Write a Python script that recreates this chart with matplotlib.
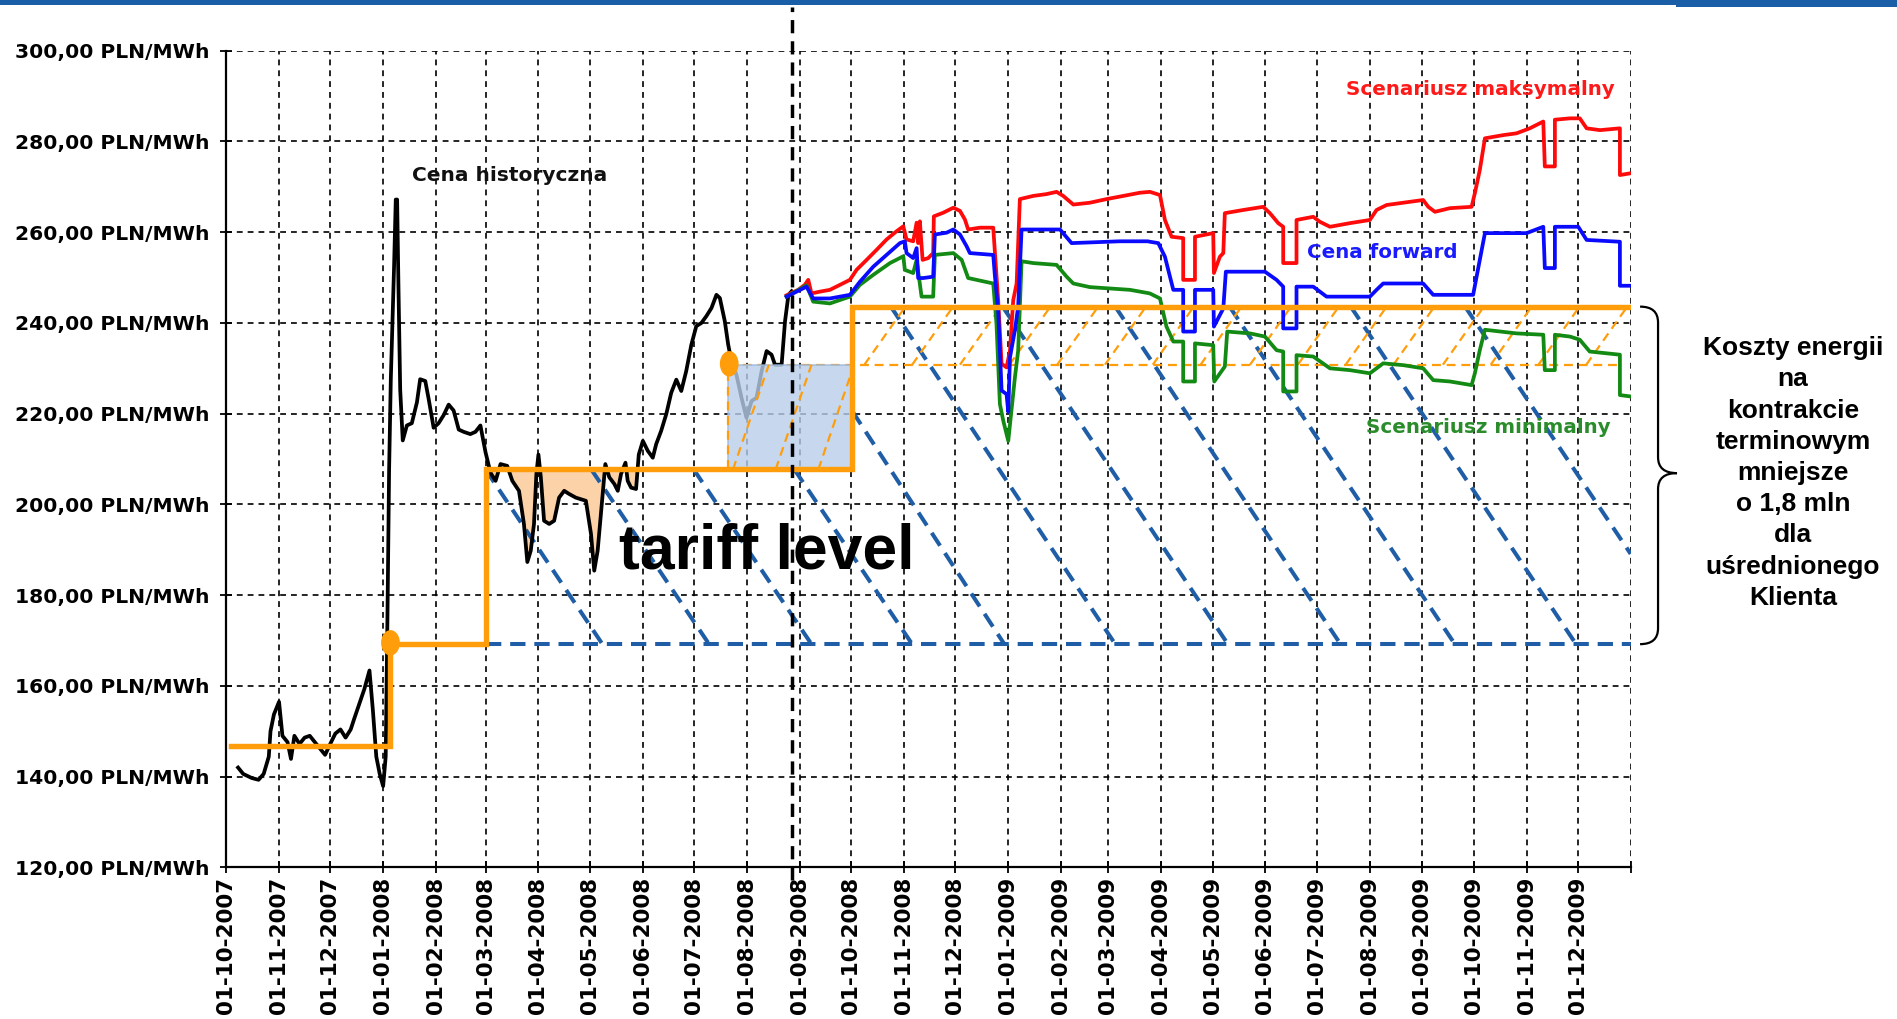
import numpy as np
import matplotlib
matplotlib.use('Agg')
import matplotlib.pyplot as plt
import matplotlib.dates as mdates
import matplotlib.transforms as mtransforms
from matplotlib.patches import Rectangle, Ellipse, PathPatch
from matplotlib.path import Path

# day offsets counted from 01-10-2007
start_date = np.datetime64('2007-10-01')

# historical spot price (Cena historyczna)
hist_day = [7, 10, 15, 19, 22, 25, 26, 28, 31, 33, 36, 38, 40, 43, 46, 49, 52, 55, 58, 61,
            64, 67, 70, 73, 75, 78, 81, 84, 86, 88, 90, 92, 93.5, 94.5, 95.5, 96.5, 97.5, 98.4,
            99.4, 100.2, 101, 102, 103.5, 105.9, 108.8, 111.8, 113.7, 116.7, 118.6, 121.6,
            124.5, 127.5, 130.4, 133.3, 136.3, 139.2, 143.1, 146.1, 149, 152,
            154.9, 157.9, 160.8, 164.7, 167.7, 171.6, 174.5, 176.5, 178.5, 180.4, 181.8, 183,
            184.4, 186.3, 189.3, 192.2, 195.1, 198.1, 201, 204.9, 210.8, 213.8, 215.7, 217.7,
            219.6, 222.2, 224.5, 227.5, 229.5, 231.4, 234, 235.3, 237.3, 240.2, 241.8, 244.2,
            247.1, 250, 252, 254.9, 257.9, 260.8, 263.8, 266.7, 269.6, 272.6, 275.5, 278.5,
            281.4, 284.4, 287.3, 289.3, 292.2, 294.2, 296.1, 299, 302, 304.9, 307.9, 310.8,
            313.8, 316.7, 319.6, 321.6, 325.5, 327.5, 329.5, 331.4]
hist_val = [142, 140.6, 139.7, 139.3, 140.6, 144.4, 150, 153.7, 156.5, 149, 147.6, 143.9, 149,
            147.2, 148.6, 149, 147.6, 146.2, 144.8, 147.2, 149.5, 150.4, 148.6, 150.4, 152.7,
            156, 159.3, 163.4, 154.6, 144.4, 140.6, 137.9, 144.4, 174.1, 207.6, 227.6, 240.2,
            252.3, 267.2, 267.2, 247.6, 225.3, 214.1, 217.4, 217.9, 222.5, 227.6, 227.2, 223.4,
            216.9, 217.9, 219.7, 222, 220.7, 216.5, 216, 215.5, 216, 217.4, 211.5,
            207, 205.2, 208.9, 208.5, 205.2, 203, 195.7, 187.3, 189.8, 195.7, 206.7, 211,
            206, 196.4, 195.7, 196.4, 201.5, 203, 202.3, 201.5, 200.8, 193.5, 185.4, 189.8,
            197.9, 208.9, 206, 204.5, 203, 206.7, 209.2, 205.2, 203.7, 203.4, 211, 214,
            211.8, 210.3, 213.3, 216.2, 219.9, 224.6, 227.5, 225, 229.4, 235.2, 239.3, 240,
            241.5, 243.3, 246.2, 245.5, 240.4, 235.2, 231.6, 228.6, 223.5, 219.1, 222.8, 223.5,
            229.4, 233.8, 233, 230.8, 230.8, 240.4, 246.2, 247]

# Scenariusz maksymalny
max_day = [328.4, 335.2, 339.1, 341.1, 343, 347.9, 353.8, 359.7, 365.5, 369.4, 375.3, 381.1,
           387, 392.8, 396.8, 398.7, 402.6, 404.6, 405.5, 406.5, 408.1, 411.4, 414.3, 414.7,
           420.2, 426.1, 430, 432.9, 434.8, 441.7, 449.5, 450.5, 452.4, 454.4, 457.3, 459.3,
           461.2, 463.2, 465.1, 472.9, 480.7, 486.6, 490.5, 496.4, 506.1, 515.9, 525.7, 535.4,
           541.3, 547.2, 550.1, 554, 560.8, 560.8, 567.7, 567.7, 578.4, 578.8, 582.3, 584.3,
           585.2, 596, 607.7, 611.6, 616.5, 619.4, 619.4, 627.2, 627.2, 637, 640.9, 646.8,
           658.5, 670.2, 674.1, 680, 689.7, 701.4, 704.4, 708.3, 717.1, 729.8, 731.7, 734.6,
           737.6, 748.3, 756.1, 763.9, 771.8, 772.7, 778.6, 778.6, 787.4, 793.2, 797.2, 805,
           816.7, 816.7, 823]
max_val = [246.1, 247.3, 248.4, 249.5, 246.5, 246.9, 247.3, 248.4, 249.5, 251.7, 253.9, 256.1,
           258.4, 260.2, 261.3, 258.4, 258, 262.1, 257.6, 262.4, 253.9, 254.3, 255.4, 263.5,
           264.3, 265.4, 264.7, 262.8, 260.6, 261, 261, 255.4, 245, 231, 230.2, 233.9,
           245, 248.7, 267.3, 268, 268.4, 268.9, 268, 266.1, 266.5, 267.3, 268, 268.7,
           268.9, 268.2, 262.7, 259, 258.7, 249.5, 249.5, 259, 259.8, 251, 254.6, 255.4,
           264.2, 264.9, 265.6, 264.2, 262, 261.2, 253.2, 253.2, 262.7, 263.4, 262.3, 261.2,
           262, 262.7, 264.9, 266, 266.5, 267.1, 265.6, 264.5, 265.3, 265.6, 268.6, 273.7,
           280.7, 281.4, 281.8, 282.9, 284.4, 274.5, 274.5, 284.8, 285.1, 285.1, 282.9, 282.5,
           282.9, 272.6, 273]

# Cena forward
fwd_day = [328.4, 340.1, 344, 353.8, 365.5, 371.4, 379.2, 387, 394.8, 397.7, 398.7, 402.6,
           404.6, 405.5, 408.5, 414.3, 415.3, 422.2, 426.1, 430, 433.9, 435.8, 449.5, 450.5,
           452.4, 454.4, 457.3, 458.3, 459.3, 462.2, 464.1, 466.1, 488.6, 495.4, 523.7, 540,
           541.3, 546.2, 550.1, 555, 560.8, 560.8, 567.7, 567.7, 578.4, 578.8, 584.3, 585.8,
           608.7, 615.5, 619.4, 619.4, 627.2, 627.2, 637, 644.8, 670.2, 674.1, 678, 701.4,
           707.3, 730.7, 734.6, 737.6, 762, 771.8, 772.7, 778.6, 778.6, 792.3, 797.2, 816.7,
           816.7, 823]
fwd_val = [245.8, 248, 245.4, 245.4, 246.2, 249.1, 252.4, 255, 257.6, 258, 255.4, 254.3,
           256.5, 249.9, 249.9, 250.2, 259.5, 259.9, 260.6, 259.5, 256.9, 255.4, 255, 250.2,
           242.8, 225.1, 224.3, 220.4, 232.4, 238.4, 243.6, 260.6, 260.6, 257.6, 258, 258,
           257.9, 257.6, 254.6, 247.3, 247.3, 238.1, 238.1, 247.3, 247.3, 239.2, 243.2, 251.3,
           251.3, 249.5, 248, 238.8, 238.8, 248, 248, 245.8, 245.8, 247.3, 248.7, 248.7,
           246.2, 246.2, 253.9, 259.8, 259.8, 261.2, 252.1, 252.1, 261.2, 261.2, 258.3, 257.9,
           248.2, 248.2]

# Scenariusz minimalny
min_day = [328.4, 340.1, 344, 353.8, 365.5, 371.4, 379.2, 389, 396.8, 397.7, 402.6, 404.6,
           407.5, 414.3, 415.3, 426.1, 431, 434.8, 449.5, 451.4, 453.4, 455.4, 458.3, 459.3,
           462.2, 464.1, 466.1, 472.9, 486.6, 492.5, 496.4, 506.1, 517.9, 529.6, 540,
           541.3, 547.2, 551, 555, 560.8, 560.8, 567.7, 567.7, 578.4, 579, 585.2, 586.6,
           599.9, 608.7, 615.5, 619.4, 619.4, 627.2, 627.2, 637, 646.8, 658.5, 670.2, 678,
           689.7, 701.4, 707.3, 717.1, 729.8, 731.7, 734.6, 737.6, 756.1, 771.8, 772.7, 778.6,
           778.6, 787.4, 793.2, 799, 816.7, 816.7, 823]
min_val = [245.8, 248.3, 244.7, 244.3, 245.8, 248.4, 250.6, 253.2, 254.7, 251.7, 251, 253.9,
           245.8, 245.8, 255, 255.4, 253.9, 249.9, 248.7, 239.8, 222.1, 218.4, 214, 217.6,
           228, 233.9, 253.6, 253.2, 252.8, 250.2, 248.7, 247.9, 247.6, 247.3, 246.6,
           246.5, 245.4, 239.2, 235.9, 235.9, 227.1, 227.1, 235.5, 235.1, 227.1, 230.4, 238.1,
           237.7, 237, 234, 233.7, 224.9, 224.9, 232.9, 232.6, 230, 229.6, 228.9, 231.1,
           230.7, 230, 227.4, 227.1, 226.3, 228.9, 234, 238.5, 237.7, 237.4, 229.6, 229.6,
           237.4, 237, 236.3, 233.7, 233, 224.1, 223.8]

# tariff level steps
tariff_day = [3, 96, 96, 152, 152, 367, 367, 823]
tariff_val = [146.7, 146.7, 169.2, 169.2, 207.7, 207.7, 243.6, 243.6]
tariff_points_day = [96.3, 294.8]
tariff_points_val = [169.5, 231.0]

# forward contract box and hatched area
box_day = [294, 367]
box_val = [207.7, 230.8]
hatch_top = 243.6
hatch_bottom_day = [374, 402, 430, 459, 487, 515, 543, 571, 600, 628, 656, 684, 713, 741, 769, 797]
hatch_top_day = [398, 426, 454, 483, 511, 539, 567, 595, 624, 652, 680, 708, 737, 765, 793, 821]
box_diag_bottom_day = [297, 322, 347]
box_diag_top_day = [318, 343, 368]

# blue dashed "savings" lines
diag_start_day = [152, 214, 274, 333, 367, 389.5, 455, 521, 588, 659, 726]
diag_start_val = [207.7, 207.7, 207.7, 207.7, 220.5, 243.6, 243.6, 243.6, 243.6, 243.6, 243.6]
diag_end_day = [220.5, 283, 343, 402, 456, 521, 587, 653, 720, 791, 823]
diag_end_val = [169.2, 169.2, 169.2, 169.2, 169.2, 169.2, 169.2, 169.2, 169.2, 169.2, 189.1]
base_line_day = [152, 823]
base_line_val = [169.2, 169.2]

divider_day = 331.7

month_labels = ['01-10-2007', '01-11-2007', '01-12-2007', '01-01-2008', '01-02-2008',
                '01-03-2008', '01-04-2008', '01-05-2008', '01-06-2008', '01-07-2008',
                '01-08-2008', '01-09-2008', '01-10-2008', '01-11-2008', '01-12-2008',
                '01-01-2009', '01-02-2009', '01-03-2009', '01-04-2009', '01-05-2009',
                '01-06-2009', '01-07-2009', '01-08-2009', '01-09-2009', '01-10-2009',
                '01-11-2009', '01-12-2009', '01-01-2010']
y_ticks = [120, 140, 160, 180, 200, 220, 240, 260, 280, 300]

base = mdates.date2num(start_date)


def dx(days):
    return base + np.asarray(days, dtype=float)


orange = '#ff9d0b'
dblue = '#1f5ea6'

fig = plt.figure(figsize=(18.97, 10.19), dpi=100)
ax = fig.add_axes([0.1192, 0.1488, 0.7404, 0.8014])

# grid
ax.set_axisbelow(True)
ax.grid(True, color='black', linestyle=(0, (3.5, 3)), linewidth=1.2)

# peach area where spot < tariff
hd = np.array(hist_day)
hv = np.array(hist_val)
mask = (hd >= 152) & (hd <= 243)
ax.fill_between(dx(hd[mask]), hv[mask], 207.7, where=hv[mask] < 207.7, interpolate=True,
                facecolor='#fcd2a8', edgecolor='#f3a45c', linewidth=0.8, zorder=1)

# blue dashed savings lines
for sd, sv, ed, ev in zip(diag_start_day, diag_start_val, diag_end_day, diag_end_val):
    ax.plot(dx([sd, ed]), [sv, ev], color=dblue, lw=2.9, dashes=(3.8, 2.2), zorder=2)
ax.plot(dx(base_line_day), base_line_val, color=dblue, lw=2.9, dashes=(3.8, 2.2), zorder=2)

# orange dashed hatch region
for b, t in zip(hatch_bottom_day, hatch_top_day):
    ax.plot(dx([b, t]), [box_val[1], hatch_top], color=orange, lw=1.6, dashes=(4, 2.6), zorder=2)
ax.plot(dx([box_day[0], 815]), [box_val[1], box_val[1]], color=orange, lw=1.6,
        dashes=(4, 2.6), zorder=2)

# historical price
ax.plot(dx(hist_day), hist_val, color='black', lw=2.7, zorder=3)

# forward box
ax.add_patch(Rectangle((dx(box_day[0]), box_val[0]), box_day[1] - box_day[0],
                       box_val[1] - box_val[0], facecolor='#b9cfea', edgecolor='#9ab8de',
                       lw=1.2, alpha=0.8, zorder=3.5))
ax.plot(dx([box_day[0], box_day[0]]), box_val, color=orange, lw=1.6, dashes=(4, 2.6), zorder=3.6)
for b, t in zip(box_diag_bottom_day, box_diag_top_day):
    t2 = min(t, box_day[1])
    v2 = box_val[0] + (box_val[1] - box_val[0]) * (t2 - b) / (t - b)
    ax.plot(dx([b, t2]), [box_val[0], v2], color=orange, lw=1.6, dashes=(4, 2.6), zorder=3.6)

# scenarios
ax.plot(dx(max_day), max_val, color='#ff0a0a', lw=2.7, zorder=4)
ax.plot(dx(min_day), min_val, color='#138a13', lw=2.7, zorder=4)
ax.plot(dx(fwd_day), fwd_val, color='#0a0aff', lw=2.7, zorder=4.1)

# tariff
ax.plot(dx(tariff_day), tariff_val, color=orange, lw=3.9, zorder=5, solid_joinstyle='miter')
for d, v in zip(tariff_points_day, tariff_points_val):
    ax.add_patch(Ellipse((dx(d), v), 11, 5.6, facecolor=orange, edgecolor='none', zorder=6))

# divider
ax.plot(dx([divider_day, divider_day]), [117.2, 309.7], color='black', lw=2.5,
        dashes=(3.8, 2.3), zorder=7, clip_on=False)

# texts
ax.text(dx(166), 272.5, 'Cena historyczna', color='#111111', fontsize=14.5,
        fontweight='bold', ha='center', va='center', zorder=8)
ax.text(dx(735), 291.5, 'Scenariusz maksymalny', color='#ff1a1a', fontsize=14.3,
        fontweight='bold', ha='center', va='center', zorder=8)
ax.text(dx(677.7), 255.5, 'Cena forward', color='#1a1aff', fontsize=14.3,
        fontweight='bold', ha='center', va='center', zorder=8)
ax.text(dx(739.4), 217, 'Scenariusz minimalny', color='#2a8c2a', fontsize=14.3,
        fontweight='bold', ha='center', va='center', zorder=8)
ax.text(dx(316.5), 185.9, 'tariff level', color='black', fontsize=45,
        fontfamily='Liberation Sans', fontweight='bold', ha='center', va='baseline', zorder=8)

# axes formatting
ax.set_xlim(dx(0), dx(823))
ax.set_ylim(120, 300)
tick_pos = [mdates.date2num(np.datetime64(s[6:] + '-' + s[3:5] + '-' + s[:2])) for s in month_labels]
ax.set_xticks(tick_pos)
ax.set_xticklabels(month_labels[:-1] + [''], rotation=90, fontsize=15.5, fontweight='bold')
ax.set_yticks(y_ticks)
ax.set_yticklabels(['%d,00 PLN/MWh' % v for v in y_ticks], fontsize=14.6, fontweight='bold')
ax.tick_params(axis='both', direction='inout', length=8, width=1.3)
ax.tick_params(axis='y', pad=8)
ax.tick_params(axis='x', pad=3)
for side in ['top', 'right']:
    ax.spines[side].set_visible(False)
for side in ['left', 'bottom']:
    ax.spines[side].set_linewidth(1.6)

# brace on the right
trans = mtransforms.blended_transform_factory(ax.transAxes, ax.transData)
xl, xv, xt = 1.0067, 1.0195, 1.033
yt, ytip, yb, r = 243.6, 206.9, 169.2, 3.5
verts = [(xl, yt), (xv, yt), (xv, yt - r), (xv, ytip + r), (xv, ytip), (xt, ytip),
         (xv, ytip), (xv, ytip - r), (xv, yb + r), (xv, yb), (xl, yb)]
codes = [Path.MOVETO, Path.CURVE3, Path.CURVE3, Path.LINETO, Path.CURVE3, Path.CURVE3,
         Path.CURVE3, Path.CURVE3, Path.LINETO, Path.CURVE3, Path.CURVE3]
ax.add_patch(PathPatch(Path(verts, codes), facecolor='none', edgecolor='black', lw=1.6,
                       transform=trans, clip_on=False))

fig.text(1793 / 1897, 1 - 473 / 1019,
         'Koszty energii\nna\nkontrakcie\nterminowym\nmniejsze\no 1,8 mln\ndla\nuśrednionego\nKlienta',
         fontsize=19, fontfamily='Liberation Sans', fontweight='bold', ha='center', va='center',
         multialignment='center', linespacing=1.38)

# top banner
fig.patches.append(Rectangle((0, 1 - 5 / 1019), 1, 5 / 1019, transform=fig.transFigure,
                             facecolor='#1b5ea8', edgecolor='none'))
fig.patches.append(Rectangle((1676 / 1897, 1 - 7 / 1019), 1 - 1676 / 1897, 7 / 1019,
                             transform=fig.transFigure, facecolor='#1b5ea8', edgecolor='none'))

fig.savefig('out.png', dpi=100, facecolor='white')
